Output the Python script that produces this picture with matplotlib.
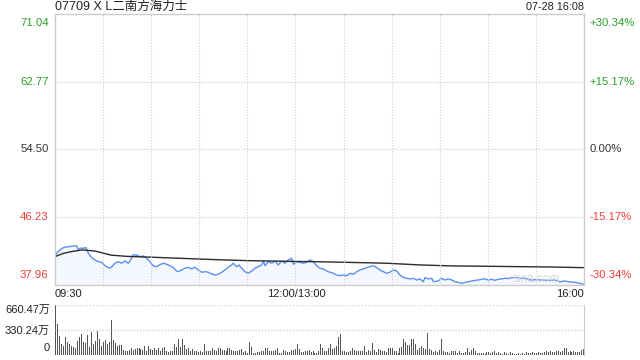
import numpy as np
import matplotlib
matplotlib.use('Agg')
import matplotlib.pyplot as plt

plt.rcParams['font.family'] = ['Liberation Sans', 'Noto Sans CJK SC', 'DejaVu Sans']

title = '07709 X L二南方海力士'
stamp = '07-28 16:08'

# price levels (left) and change (right)
price_ticks = [71.04, 62.77, 54.50, 46.23, 37.96]
pct_ticks = ['+30.34%', '+15.17%', '0.00%', '-15.17%', '-30.34%']
tick_colors = ['#2ca02c', '#2ca02c', '#333333', '#f03b3b', '#f03b3b']
time_labels = ['09:30', '12:00/13:00', '16:00']
vol_ticks = [660.47, 330.24, 0]
vol_labels = ['660.47万', '330.24万', '0']

# minutes since 09:30 (lunch removed) and price
price_t = [0, 1.0, 3.1, 5.2, 7.3, 9.4, 11.4, 13.5, 14.6, 15.6, 17.7, 19.3, 20.8, 22.9, 25.0, 27.0,
           29.1, 31.2, 33.3, 34.3, 35.4, 37.4, 39.5, 41.6, 43.7, 45.7, 46.8, 48.8, 50.9, 53.0,
           55.1, 57.2, 59.3, 61.3, 63.4, 65.5, 67.6, 69.7, 71.7, 73.8, 75.9, 76.9, 79.0, 81.1,
           83.2, 85.3, 87.3, 89.4, 91.5, 93.6, 95.6, 97.7, 99.8, 101.9, 104.0, 106.0, 108.1,
           110.2, 111.2, 113.3, 114.8, 116.4, 118.5, 120.6, 122.7, 124.8, 126.8, 128.9, 130.0,
           131.0, 133.1, 135.2, 137.2, 139.3, 141.4, 143.5, 145.5, 147.6, 148.7, 150.8, 152.8,
           154.9, 157.0, 159.1, 161.1, 163.2, 165.3, 167.4, 169.5, 171.5, 173.6, 175.7, 177.8,
           179.8, 182.0, 184.0, 186.1, 188.2, 190.3, 192.3, 194.4, 196.5, 198.6, 200.7, 202.7,
           204.8, 206.9, 209.0, 211.1, 213.2, 215.2, 217.3, 219.4, 221.5, 223.5, 225.6, 227.7,
           229.8, 230.8, 232.9, 235.0, 236.0, 239.1, 241.2, 243.3, 245.3, 247.5, 249.5, 251.6,
           253.7, 255.8, 257.8, 259.9, 262.0, 264.1, 266.2, 268.2, 270.3, 272.4, 274.5, 276.5,
           278.6, 280.7, 282.8, 284.9, 287.0, 289.0, 291.1, 293.2, 295.3, 297.4, 299.4, 303.6,
           307.7, 311.9, 315.0, 318.1, 320.2, 324.4, 327.5, 329.6]
price = [41.17, 41.78, 42.19, 42.47, 42.55, 42.60, 42.68, 42.68, 42.19, 42.40, 42.40, 42.47, 41.78,
         41.24, 40.96, 40.75, 40.68, 40.26, 40.02, 39.95, 40.14, 40.56, 40.75, 40.56, 40.84, 40.56,
         40.84, 41.58, 41.58, 41.37, 41.45, 41.17, 40.75, 40.23, 40.14, 40.39, 40.56, 40.43, 40.26,
         40.02, 39.61, 39.53, 39.74, 39.95, 40.07, 39.86, 40.07, 39.74, 39.46, 39.53, 39.46, 39.25,
         39.12, 39.21, 39.46, 39.74, 40.07, 40.35, 40.56, 40.14, 40.35, 39.95, 39.53, 39.33, 39.61,
         39.95, 40.14, 40.35, 40.84, 40.26, 40.75, 40.56, 40.84, 40.35, 40.84, 40.56, 40.96, 41.17,
         40.43, 40.75, 40.68, 40.56, 40.68, 40.96, 40.75, 40.26, 39.95, 39.86, 39.61, 39.46, 39.33,
         39.12, 39.04, 39.12, 39.04, 39.33, 39.21, 39.53, 39.74, 39.86, 40.02, 40.14, 40.26, 40.02,
         39.74, 39.53, 39.33, 39.46, 39.74, 39.61, 39.12, 38.84, 38.72, 38.64, 38.72, 38.51, 38.64,
         38.30, 38.80, 38.64, 38.72, 38.30, 38.39, 38.72, 38.51, 38.64, 38.51, 38.30, 38.23, 38.10,
         38.23, 38.30, 38.39, 38.47, 38.51, 38.60, 38.64, 38.51, 38.60, 38.47, 38.60, 38.64, 38.72,
         38.68, 38.80, 38.80, 38.76, 38.72, 38.72, 38.60, 38.47, 38.55, 38.51, 38.47, 38.51, 38.30,
         38.39, 38.30, 38.23, 38.10, 38.01]

# average price line
avg_t = [0, 5, 10, 17, 25, 35, 45, 60, 80, 100, 120, 150, 165, 180, 207, 228, 248, 270, 290, 310, 330]
avg_price = [41.37, 41.75, 41.98, 42.19, 42.05, 41.55, 41.40, 41.30, 41.15, 41.00, 40.88, 40.78,
             40.74, 40.68, 40.56, 40.35, 40.23, 40.19, 40.14, 40.10, 40.02]

# volume (万股)
volume = [660, 410, 248, 140, 117, 234, 167, 140, 117, 108, 86, 180, 234, 275, 167, 158, 261, 104,
          302, 144, 180, 315, 207, 122, 167, 194, 144, 167, 464, 194, 158, 122, 131, 131, 72, 59,
          59, 68, 86, 68, 81, 99, 99, 77, 72, 113, 50, 113, 77, 63, 86, 72, 90, 59, 90, 104, 50,
          45, 50, 54, 140, 104, 207, 104, 207, 131, 81, 86, 59, 77, 50, 50, 41, 50, 45, 140, 50,
          50, 54, 86, 68, 59, 90, 95, 68, 72, 59, 86, 86,
          72, 54, 59, 54, 68, 77, 36, 50, 23, 171, 104, 32, 32, 36, 45, 59, 50, 90, 90, 54, 50,
          54, 72, 86, 32, 23, 72, 50, 36, 41, 68, 68, 81, 144, 81, 36, 45, 54, 50, 68, 45, 59, 23,
          32, 50, 140, 95, 50, 59, 90, 140, 81, 90, 113, 239, 275, 50, 59, 36, 41, 59, 90, 72, 59,
          50, 59, 59, 117, 45, 68, 59, 158, 68, 36, 81, 68, 50, 59, 45, 90, 90, 90, 59, 59, 27, 90,
          104, 207,
          171, 126, 126, 207, 207, 144, 72, 90, 113, 95, 81, 288, 81, 68, 36, 59, 36, 68, 207, 54,
          41, 36, 32, 50, 59, 54, 23, 59, 32, 27, 45, 86, 36, 68, 86, 54, 27, 32, 23, 32, 14, 36,
          36, 23, 41, 59, 27, 41, 27, 14, 41, 32, 14, 45, 32, 14, 14, 23, 14, 27, 14, 36, 27, 32,
          45, 23, 27, 36, 32, 27, 36, 59, 36, 50, 36, 45, 59, 59, 36, 50, 90, 90, 36, 50, 36, 59,
          36, 45, 36, 68, 77]

fig = plt.figure(figsize=(6.4, 3.6), dpi=100)
ax = fig.add_axes([55 / 640, 75.5 / 360, 529 / 640, 270.5 / 360])
axv = fig.add_axes([55 / 640, 5 / 360, 529 / 640, 50 / 360])

grid_c = '#cccccc'
ax.fill_between(price_t, price, 37.96, color='#eef4fe', alpha=0.6, lw=0)
ax.plot(price_t, price, color='#5b8ff0', lw=1.0)
ax.plot(avg_t, avg_price, color='#2b2b2b', lw=1.0)
ax.set_xlim(0, 330)
ax.set_ylim(37.96, 71.04)
for v in price_ticks[1:4]:
    ax.axhline(v, color=grid_c, ls=(0, (1, 1.5)), lw=0.8)
for t in range(30, 330, 30):
    ax.axvline(t, color=grid_c, ls=(0, (1, 1.5)), lw=0.8)
ax.set_xticks([])
ax.set_yticks([])
for s in ax.spines.values():
    s.set_color('#cccccc')
    s.set_linewidth(1.0)

# left price labels and right pct labels
vas = ['top', 'center', 'center', 'center', 'bottom']
for v, lab, c, va in zip(price_ticks, pct_ticks, tick_colors, vas):
    yy = v - 0.5 if va == 'top' else (v + 0.5 if va == 'bottom' else v)
    ax.text(-4, yy, f'{v:.2f}', color=c, fontsize=8.2, ha='right', va=va,
            transform=ax.transData, clip_on=False)
    ax.text(3.5 + 330, yy, lab, color=c, fontsize=8.2, ha='left', va=va,
            transform=ax.transData, clip_on=False)

ax.text(300, 38.6, 'sina.com', color='#d8d8d8', fontsize=8.5, ha='center', va='center')

fig.text(55 / 640, 1 - 7 / 360, title, fontsize=9, ha='left', va='center', color='#222222')
fig.text(584 / 640, 1 - 7 / 360, stamp, fontsize=7.8, ha='right', va='center', color='#222222')

yl = 1 - 294 / 360
fig.text(55 / 640, yl, time_labels[0], fontsize=8, ha='left', va='center', color='#222222')
fig.text(296 / 640, yl, time_labels[1], fontsize=8, ha='center', va='center', color='#222222')
fig.text(584 / 640, yl, time_labels[2], fontsize=8, ha='right', va='center', color='#222222')

# volume panel
vx = np.linspace(0.3, 329.6, len(volume))
axv.vlines(vx, 0, volume, color='#555555', lw=0.72, antialiased=False)
axv.set_xlim(0, 330)
axv.set_ylim(0, 660.47)
for v in vol_ticks[:2]:
    axv.axhline(v, color=grid_c, ls=(0, (1, 1.5)), lw=0.9)
axv.set_xticks([])
axv.set_yticks([])
for k, s in axv.spines.items():
    s.set_visible(k == 'right')
axv.spines['right'].set_color('#cccccc')

vys = [310, 331, 348]
for lab, yy in zip(vol_labels, vys):
    fig.text(50 / 640, 1 - yy / 360, lab, fontsize=8, ha='right', va='center', color='#222222')

fig.savefig('out.png', dpi=100)
